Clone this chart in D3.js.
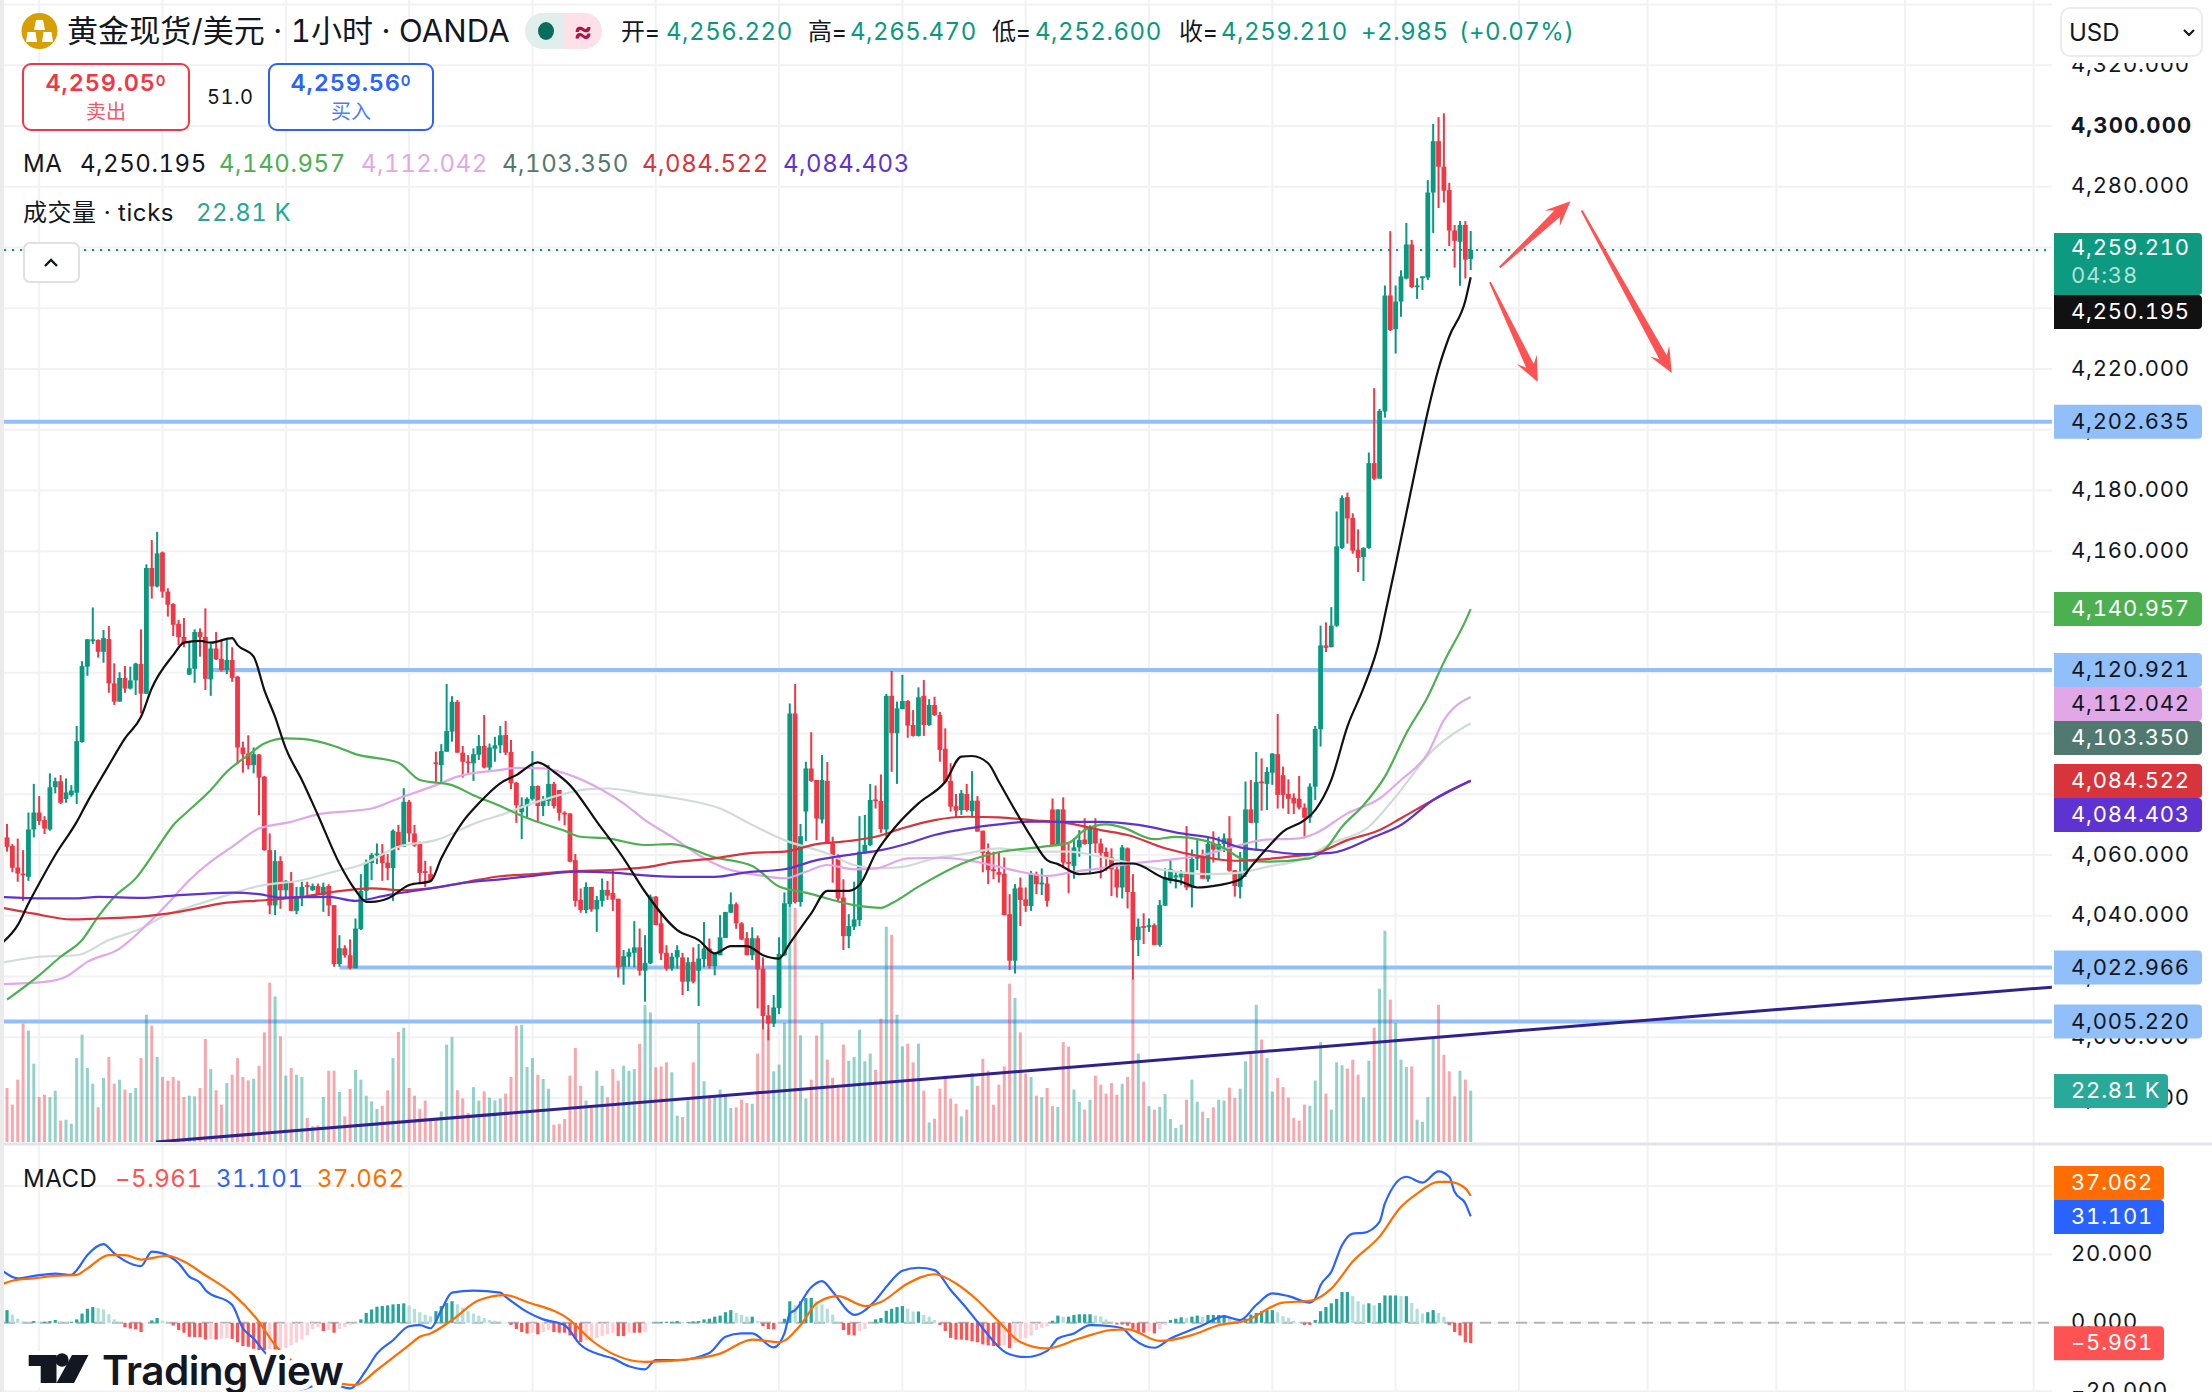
<!DOCTYPE html>
<html>
<head>
<meta charset="utf-8">
<style>
html, body { margin: 0; background: #fff; }
svg { display: block; }
text { font-family: Inter, "Noto Sans CJK SC", sans-serif; fill: #131722; font-variant-numeric: tabular-nums; }
.axlab text, .lab { font-size: 22px; letter-spacing: 0.8px; }
.hdr { font-size: 24px; letter-spacing: 0.55px; }
.axis path { display: none; }
</style>
</head>
<body>
<svg id="chart" width="2212" height="1392"></svg>
<script src="https://d3js.org/d3.v7.min.js"></script>
<script>
// candles
var opens = [
4065.8,4063.0,4055.9,4053.9,4052.8,4068.4,4074.0,4071.5,4068.4,4082.3,
4084.3,4078.4,4079.7,4080.5,4097.2,4122.0,4130.6,4130.8,4126.9,4131.1,
4116.5,4110.5,4118.3,4114.8,4117.5,4122.9,4113.1,4154.5,4148.4,4159.6,
4146.7,4142.6,4136.1,4131.8,4119.4,4121.3,4133.4,4131.8,4117.8,4128.0,
4124.6,4120.9,4124.2,4118.7,4095.4,4093.4,4089.6,4093.1,4085.8,4061.6,
4043.4,4058.0,4048.4,4051.3,4041.6,4046.2,4050.1,4048.4,4049.8,4046.8,
4049.8,4043.5,4024.1,4029.3,4027.0,4022.7,4035.6,4048.2,4057.4,4060.1,
4060.3,4057.5,4055.7,4067.6,4062.7,4077.5,4067.1,4063.6,4054.7,4053.7,
4090.5,4089.6,4094.0,4100.6,4110.4,4093.7,4090.8,4090.2,4093.0,4095.9,
4088.8,4095.0,4096.1,4099.5,4093.9,4083.8,4074.1,4076.1,4078.5,4082.7,
4076.1,4077.8,4083.4,4081.4,4073.9,4073.7,4058.3,4045.2,4041.9,4049.5,
4042.1,4044.9,4048.5,4047.5,4045.6,4023.2,4026.5,4027.8,4029.6,4021.9,
4024.3,4046.3,4037.5,4027.8,4022.6,4026.3,4026.3,4018.3,4024.8,4021.9,
4025.7,4029.2,4023.4,4027.0,4032.7,4041.0,4043.8,4037.5,4032.6,4027.0,
4032.6,4022.6,4007.2,4004.5,4009.6,4027.0,4043.8,4106.6,4044.5,4074.3,
4088.5,4084.7,4071.7,4084.4,4063.8,4059.4,4046.0,4033.3,4036.4,4038.6,
4060.5,4063.3,4078.3,4077.8,4068.4,4112.4,4100.1,4108.0,4110.7,4102.8,
4099.2,4112.4,4102.8,4109.4,4106.1,4095.0,4084.4,4076.1,4074.8,4080.1,
4074.4,4077.9,4068.0,4061.0,4055.3,4054.4,4053.9,4040.5,4025.2,4049.3,
4045.4,4043.2,4053.7,4050.4,4050.6,4075.0,4063.3,4075.0,4057.7,4056.4,
4062.5,4065.1,4063.6,4068.8,4063.8,4061.0,4059.2,4055.3,4049.3,4062.2,
4047.8,4032.0,4036.6,4036.2,4036.9,4030.4,4043.3,4051.5,4052.6,4052.6,
4053.9,4049.3,4058.9,4059.4,4052.0,4063.6,4061.8,4063.6,4065.5,4055.0,
4049.5,4053.7,4075.0,4070.6,4084.2,4083.4,4087.1,4093.2,4086.3,4080.1,
4078.8,4078.5,4075.6,4072.3,4082.5,4101.4,4129.0,4128.4,4135.5,4161.1,
4177.8,4171.0,4160.5,4158.1,4161.1,4189.0,4183.9,4206.0,4244.2,4233.1,
4242.2,4249.8,4261.0,4247.2,4250.1,4250.1,4278.1,4295.0,4286.6,4278.9,
4265.6,4261.9,4267.4,4256.22];
var closes = [
4062.7,4055.8,4053.9,4053.5,4068.4,4074.0,4071.2,4068.7,4082.3,4084.3,
4077.2,4080.6,4081.2,4097.5,4122.2,4131.0,4131.0,4126.9,4131.4,4116.5,
4110.5,4118.3,4114.8,4117.5,4123.0,4113.1,4154.5,4148.4,4159.3,4146.7,
4142.4,4135.8,4131.7,4129.7,4121.5,4133.4,4131.7,4118.0,4128.0,4124.4,
4120.9,4124.2,4118.3,4095.4,4093.2,4089.6,4093.2,4085.5,4061.6,4043.4,
4058.0,4048.4,4051.5,4041.6,4046.5,4049.5,4049.5,4049.8,4047.0,4049.5,
4043.4,4024.1,4029.3,4027.0,4022.7,4035.8,4048.2,4057.5,4060.0,4060.5,
4057.4,4055.7,4068.0,4062.9,4077.5,4067.1,4063.1,4054.1,4054.3,4051.7,
4090.2,4094.2,4100.8,4110.4,4093.7,4090.7,4090.2,4093.2,4095.9,4088.8,
4095.4,4096.1,4099.4,4093.7,4083.6,4076.4,4076.3,4078.5,4082.7,4076.1,
4078.1,4083.4,4076.1,4073.9,4073.6,4057.8,4044.9,4041.9,4049.5,4042.1,
4045.2,4048.5,4046.6,4045.3,4023.0,4026.7,4028.0,4029.6,4021.9,4024.5,
4046.3,4036.9,4027.6,4022.6,4026.5,4028.7,4018.3,4024.7,4018.3,4025.9,
4029.2,4023.4,4027.6,4032.9,4041.2,4043.8,4037.5,4032.2,4027.0,4032.6,
4022.3,4007.0,4004.5,4009.8,4027.4,4044.1,4106.6,4044.5,4066.2,4088.5,
4084.4,4072.0,4084.7,4063.8,4060.0,4045.7,4033.3,4036.6,4038.8,4061.1,
4063.3,4078.1,4077.9,4068.5,4112.4,4100.1,4108.3,4110.7,4102.6,4099.2,
4111.9,4102.8,4109.4,4106.1,4094.6,4084.1,4075.9,4074.6,4080.3,4074.8,
4077.9,4067.7,4060.7,4055.0,4054.8,4053.5,4040.2,4025.2,4049.0,4045.2,
4043.2,4053.7,4050.4,4050.9,4044.9,4063.3,4075.0,4057.5,4057.2,4062.5,
4064.9,4063.6,4068.8,4063.8,4060.7,4059.2,4055.3,4049.3,4062.5,4047.8,
4032.0,4036.4,4036.2,4036.9,4030.4,4043.5,4052.6,4055.3,4053.3,4053.9,
4049.3,4058.7,4059.4,4052.2,4063.6,4061.8,4063.6,4065.5,4054.8,4049.8,
4054.5,4075.0,4070.6,4084.0,4083.8,4087.3,4093.4,4079.8,4079.8,4078.5,
4077.0,4075.6,4072.3,4082.5,4101.5,4129.0,4128.2,4135.5,4161.6,4177.5,
4170.8,4160.2,4157.8,4161.1,4189.0,4183.9,4206.2,4244.2,4232.8,4242.2,
4250.5,4261.0,4247.0,4247.5,4250.5,4278.1,4295.0,4286.6,4278.7,4265.6,
4262.2,4267.4,4256.0,4259.21];
var highs = [
4070.2,4063.6,4065.4,4061.6,4074.0,4083.4,4079.4,4072.8,4086.9,4085.5,
4086.3,4085.2,4083.0,4102.5,4123.8,4131.1,4141.5,4131.0,4134.1,4135.4,
4123.1,4120.2,4122.2,4122.0,4123.3,4134.3,4155.7,4163.7,4166.4,4159.9,
4147.8,4142.9,4137.4,4138.0,4130.2,4134.3,4134.6,4141.2,4129.5,4133.4,
4130.5,4131.0,4128.4,4119.0,4097.3,4099.4,4095.4,4093.2,4086.0,4067.1,
4061.6,4059.6,4051.7,4054.4,4049.5,4051.2,4051.2,4050.6,4050.6,4050.9,
4050.4,4043.5,4033.6,4030.3,4032.2,4039.1,4053.7,4058.5,4060.7,4063.8,
4063.6,4060.3,4068.4,4069.9,4082.0,4078.1,4069.9,4064.4,4058.1,4056.3,
4094.0,4096.5,4116.3,4112.3,4111.0,4095.9,4092.9,4095.1,4099.5,4106.1,
4096.7,4098.9,4102.5,4104.1,4097.9,4084.1,4079.0,4079.0,4094.2,4082.9,
4079.4,4089.6,4084.1,4081.4,4074.4,4073.7,4060.3,4049.0,4051.0,4049.5,
4046.5,4052.3,4051.5,4055.0,4045.6,4028.7,4029.2,4038.2,4035.8,4033.6,
4047.0,4046.5,4041.3,4030.3,4027.8,4030.3,4027.8,4026.3,4029.6,4030.7,
4037.9,4032.5,4027.6,4040.2,4041.3,4047.7,4044.4,4037.9,4034.6,4036.2,
4033.5,4026.3,4010.6,4013.9,4032.9,4047.7,4109.9,4116.3,4070.2,4090.7,
4100.4,4084.7,4092.9,4090.6,4066.0,4060.2,4052.0,4040.5,4051.2,4072.8,
4073.2,4083.4,4082.9,4086.5,4113.0,4120.6,4110.5,4119.3,4111.0,4107.7,
4115.2,4117.6,4111.3,4112.1,4107.1,4101.7,4090.2,4080.1,4081.4,4083.4,
4087.6,4079.4,4068.0,4063.8,4061.1,4061.0,4059.2,4047.1,4050.4,4052.6,
4049.3,4054.7,4054.5,4055.6,4053.4,4078.6,4075.0,4079.0,4063.6,4065.5,
4068.2,4072.1,4069.8,4072.1,4065.4,4062.5,4062.2,4057.2,4063.3,4062.5,
4053.7,4039.1,4040.8,4039.1,4037.5,4045.2,4055.6,4058.3,4054.5,4055.0,
4069.5,4061.8,4065.2,4061.8,4066.2,4067.8,4066.0,4067.1,4072.8,4055.0,
4061.0,4084.2,4084.7,4093.9,4091.8,4088.9,4093.5,4106.4,4089.1,4084.9,
4080.3,4086.0,4077.0,4083.6,4102.5,4135.5,4136.6,4141.6,4173.1,4178.4,
4179.3,4172.5,4167.2,4161.3,4192.5,4213.7,4206.8,4247.5,4265.4,4247.5,
4252.5,4268.1,4262.5,4249.9,4250.5,4282.2,4300.7,4302.9,4304.2,4281.3,
4267.4,4268.7,4268.7,4265.47];
var lows = [
4061.1,4054.3,4051.2,4044.9,4051.5,4065.8,4069.9,4066.9,4068.0,4080.3,
4076.8,4077.2,4079.2,4076.8,4097.0,4119.0,4129.5,4125.0,4123.3,4113.4,
4109.4,4110.5,4113.4,4114.5,4112.7,4106.6,4113.0,4144.4,4148.1,4144.7,
4138.5,4132.1,4129.1,4128.4,4119.3,4116.7,4125.3,4114.3,4112.4,4124.2,
4120.4,4119.6,4117.0,4089.9,4087.1,4088.2,4086.9,4073.1,4061.4,4040.5,
4040.2,4042.3,4046.0,4041.6,4040.5,4043.2,4046.2,4048.2,4046.8,4041.3,
4039.9,4023.2,4023.2,4026.2,4022.3,4022.7,4035.3,4045.1,4051.7,4057.0,
4051.5,4051.7,4044.9,4061.6,4062.7,4064.3,4062.7,4050.6,4049.5,4051.2,
4083.8,4083.8,4094.0,4097.3,4093.7,4085.5,4086.9,4084.4,4091.3,4088.5,
4087.4,4090.7,4093.5,4092.9,4081.7,4070.6,4065.2,4072.4,4077.9,4071.0,
4072.8,4076.1,4075.3,4071.3,4069.8,4057.6,4043.0,4041.0,4040.8,4041.3,
4034.7,4043.0,4045.2,4041.6,4019.7,4017.3,4023.2,4023.0,4020.3,4011.7,
4024.1,4036.9,4025.4,4021.9,4021.9,4022.6,4013.9,4015.2,4017.7,4010.3,
4023.0,4022.6,4020.4,4027.0,4032.7,4041.0,4035.7,4032.0,4027.0,4025.4,
4009.5,4002.6,3999.0,4003.4,4007.6,4026.7,4043.0,4044.0,4043.0,4064.6,
4084.1,4064.9,4070.4,4063.6,4050.9,4044.6,4028.7,4029.3,4035.3,4036.6,
4060.5,4062.9,4075.3,4067.3,4066.0,4087.4,4083.4,4108.0,4098.6,4099.0,
4099.0,4099.2,4102.5,4105.8,4090.7,4083.6,4074.3,4072.4,4073.2,4074.3,
4072.8,4067.7,4054.3,4050.4,4052.0,4050.9,4040.2,4022.1,4021.0,4036.6,
4041.3,4041.6,4047.1,4046.8,4043.0,4063.3,4063.3,4055.9,4047.4,4052.2,
4059.4,4063.4,4054.2,4060.7,4052.3,4054.8,4046.5,4046.0,4045.7,4042.4,
4019.0,4026.7,4030.7,4034.7,4030.3,4029.8,4043.3,4050.6,4049.0,4050.1,
4048.4,4042.7,4055.0,4052.2,4051.2,4057.5,4058.3,4061.0,4054.5,4046.3,
4045.7,4052.8,4070.6,4061.4,4074.6,4074.8,4083.1,4075.3,4075.3,4073.5,
4073.5,4075.0,4065.5,4070.6,4078.1,4095.7,4126.8,4128.4,4135.1,4160.8,
4162.5,4159.2,4153.1,4150.2,4160.8,4183.4,4183.9,4204.0,4232.5,4225.1,
4237.2,4249.5,4246.6,4243.1,4246.0,4249.3,4264.8,4273.0,4274.8,4260.5,
4253.4,4247.4,4249.8,4252.6];

// tick volume in thousands
var volumes = [
24,16.6,27.7,52.6,49.5,34.8,20,21,19.9,22.8,9.5,9.9,8.1,37.3,47.7,32.9,25.9,15.4,28.4,37.8,
25.9,27.7,23.3,21.8,24,37.3,56.6,51.7,37.8,28.9,27.3,28.9,27.3,20,20.6,20.3,24,45.8,32.4,23,
16.6,26.2,29.9,37.3,28.9,27.4,28.1,33.9,48.7,70.8,64.7,47,29.5,32.9,29.9,28.9,10.7,7,7.3,20,
31.7,31.7,22.2,11.4,23.6,32.1,27.7,20.6,18.1,14.7,16.1,23,37.3,48.9,50.8,24,20.6,14.8,18.4,9.6,
9.6,13.6,43.3,46.7,23,19.4,12.9,24.4,18.4,22.5,19.7,18.5,19.3,21.5,28.9,51.7,52.1,33.3,37.3,29.9,
28,23.7,7.7,8.1,10.2,29.5,41.8,25,18.4,15.1,31.7,25,19.9,32.4,27.3,33.9,31.7,32.4,43.7,61,
57.6,33.2,33.6,35.4,31,11.7,11.1,18.5,35.4,52.9,27,20,20.3,23.3,21.3,15.1,15.4,18.8,17.3,17,
39.3,50.4,49.9,31.4,34.4,52.9,105,104,47.4,19.3,27.7,47.3,52.9,36.6,28.6,24,43.3,36.1,37.8,49.9,
35.9,39.3,32.1,54.8,95.7,92.1,56.6,42.5,43.7,35.4,43.7,22.8,8.7,10.4,23.7,29.5,19.3,17,11.4,14.4,
30.7,25,37,31.7,16.6,25.5,33.6,70.4,64.1,48.7,30.4,28.9,20.6,19.9,24,15.9,15.6,44.4,42.4,23.3,
17.8,14.4,18.8,29.5,25.5,21.5,26.2,21,25.9,28.9,72.6,39.3,26.8,15.9,14.4,15.6,21.3,10.2,6.2,7.7,
18.8,27.7,17.9,13.5,10.7,15.4,18.8,18.4,24.1,19.6,23.7,35.9,39.6,61,45.5,37.3,22.4,28.4,24.4,19.7,
10.7,9.5,16.6,16.1,27.3,44.4,21.5,14.4,35.4,34.1,32.6,36.6,29.9,19.9,36.1,50.8,68.1,93.9,63.3,52.9,
36.6,33.3,33.6,9.9,9,19.9,45.8,61,38.8,31.4,20.3,31.7,27.7,22.81];

// moving averages: bar number and value at the points read
var ma1Bars = [-1,2,4,6,9,13,15,17,19,22,25,27,31,33,36,38,42,43,46,48,50,52,55,58,62,65,67,68,71,75,79,81,85,88,92,95,99,102,105,110,115,119,125,129,132,135,138,141,144,146,150,153,157,159,162,166,170,175,178,180,183,185,188,191,194,196,200,204,207,210,216,219,222,226,230,232,235,238,242,244,247,250,253,256,257,259,263,265,267,269,272,273];
var ma1Vals = [4030.9,4036.9,4044,4050.6,4060,4070.9,4077.5,4083.6,4089.6,4098.4,4105.5,4114.9,4125.8,4129.9,4130.5,4129.9,4131.4,4129.1,4125.3,4114.3,4105.5,4095.1,4084.7,4073.1,4057.2,4048.4,4044.6,4044.6,4045.7,4050.1,4051.4,4058.9,4070.9,4077,4083.6,4086.3,4090.5,4087.4,4083,4071,4058.9,4047.9,4035.3,4032,4027.6,4030,4030,4027,4025.9,4030.9,4040.8,4048.2,4048.2,4050.1,4060.5,4069.9,4077,4084.1,4092.4,4092.6,4090.2,4084.1,4074.8,4066,4058.3,4057,4053.7,4054.5,4057.2,4057.2,4052.3,4051.2,4049.3,4050.1,4052,4056.1,4062.2,4067.7,4071.5,4074.8,4084.7,4102.3,4114.9,4130.8,4139,4155.5,4189.6,4206,4220.1,4230.7,4242.5,4250.195];
var ma2Bars = [0,6,10,14,17,20,24,28,31,34,38,41,45,48,52,55,61,65,73,77,83,87,92,95,98,104,107,112,119,124,132,139,144,149,158,163,165,170,179,185,193,198,201,205,208,214,218,223,227,231,235,243,246,249,253,257,261,265,268,272,273];
var ma2Vals = [4012.4,4020.4,4026.5,4032,4039.7,4046.2,4052.3,4062.2,4069.8,4074.8,4081.4,4087.4,4092.9,4096.7,4098.4,4098.2,4095.9,4093.2,4090.4,4084.7,4083,4079.7,4076.1,4073.7,4071.5,4068,4066,4065.5,4063.3,4063.6,4059.2,4056.4,4049.6,4047.6,4043.5,4042.6,4044.1,4049.6,4057.8,4060.9,4062.7,4064,4068.2,4070.1,4069.1,4065.2,4066,4064.9,4062.2,4058.3,4057.8,4058.9,4062.2,4069.3,4076.4,4085.8,4100.1,4112.1,4123.5,4137,4140.957];
var ma3Bars = [-1,7,11,15,21,26,30,34,38,42,47,53,58,65,68,73,80,84,92,95,100,105,111,115,119,124,129,134,140,145,149,153,158,162,168,174,179,185,189,194,199,204,210,216,223,230,234,241,244,250,256,260,265,268,273];
var ma3Vals = [4017.5,4018.2,4019.9,4024.8,4029.2,4036.9,4044,4051.7,4057.8,4062.7,4068.7,4070.9,4073.4,4074.6,4075.3,4078.6,4083,4085.8,4088,4088.7,4088.5,4086.3,4081.4,4077,4071.5,4066,4060,4055.6,4053.4,4052.3,4054.5,4056.7,4055.3,4055.6,4058.9,4059.1,4058.3,4056.1,4054.5,4053.1,4054.5,4055.6,4057.2,4058.3,4060,4063.3,4064.9,4065.5,4067.1,4073.7,4078.6,4084.7,4093.5,4104.4,4112.042];
var ma4Bars = [-1,6,13,19,25,29,36,42,47,55,61,66,73,80,88,92,98,103,108,112,119,125,133,139,145,153,158,162,167,173,179,185,191,198,204,210,216,224,230,235,241,247,254,259,266,273];
var ma4Vals = [4024.5,4026.5,4027,4032,4035.8,4039.7,4044,4047.3,4049.8,4051.7,4054.5,4056.7,4062.7,4064.9,4070.9,4073.1,4077,4079.7,4081.6,4081.9,4080.1,4078.6,4075.3,4069.9,4064.9,4060.5,4056.7,4055.6,4056.1,4058.9,4060.5,4062.2,4061.1,4061.1,4059.4,4057.2,4055,4053.7,4054.2,4056.1,4058.3,4063.8,4069.3,4079.2,4094.6,4103.35];
var ma5Bars = [-1,5,12,17,25,32,41,48,55,61,68,74,79,86,92,98,104,115,119,124,132,139,145,151,157,162,167,173,179,185,191,198,204,209,216,223,229,232,240,244,250,256,260,266,273];
var ma5Vals = [4042.7,4040.7,4038.8,4039.1,4039.7,4041.3,4044.3,4045.1,4046.2,4047.9,4049,4048.4,4049,4051.2,4053,4053.7,4054.5,4055.3,4055.9,4057.5,4058.9,4060.7,4061.1,4063.6,4064.6,4066,4068.8,4071.5,4072.6,4072.4,4071.5,4070.4,4068.2,4066.6,4062.2,4059.4,4058.1,4058.3,4059.6,4060.5,4064.9,4068.2,4072.1,4078.1,4084.522];
var ma6Bars = [-1,7,13,17,25,31,42,47,51,60,65,71,79,86,92,98,106,113,119,127,132,138,145,151,158,163,168,173,179,185,191,198,204,211,219,225,230,235,241,247,255,260,266,273];
var ma6Vals = [4046.2,4045.7,4045.7,4046.2,4045.9,4046.6,4047.6,4047.1,4046,4046.2,4044.9,4046.8,4049,4051,4052,4053.1,4054.5,4054.2,4053.3,4052.8,4052.8,4054.3,4055.3,4058.3,4060.3,4061.6,4063.8,4066.6,4068.7,4070.1,4071,4070.9,4070.9,4069.9,4067.1,4065.5,4062.5,4061.4,4060.3,4060.7,4066,4069.9,4078.1,4084.403];

// MACD pane
var macdBars = [-1,2,5,9,12,13,15,18,20,22,25,27,29,32,34,36,37,42,44,46,48,51,53,55,57,60,62,64,67,69,72,75,77,79,81,83,87,92,93,97,100,104,107,111,113,116,119,121,125,131,134,137,139,143,145,146,147,150,152,154,157,158,162,164,167,170,173,176,179,181,187,190,194,196,199,202,206,208,210,214,217,220,223,227,230,233,236,239,243,244,245,247,249,251,253,256,257,261,264,267,269,270,272,273];
var macdVals = [15.4,13,13.7,14.4,14,15.4,19.8,23,20.3,18.1,16.6,20.8,20.3,17.4,13.5,11.7,9.6,5.2,-1.6,-4.6,-8.5,-13.8,-18.2,-19.4,-18.5,-17.7,-18.5,-19.2,-13.8,-9,-5.1,-1,-0.7,-1.6,3.7,8.8,9.4,8.8,7.6,3.2,1,-0.7,-6.5,-9.5,-10.4,-12.7,-13.6,-10.9,-10.9,-8.8,-4.1,-3.1,-3.1,-7.2,-3.1,2.7,3.7,10.4,12.2,9.1,3.2,2.3,6.6,10.5,15.2,16.1,15.4,9.6,4.2,0.3,-9.2,-10,-8.2,-4.6,-3.1,-0.7,-1,-1.6,-4.6,-7.3,-4.6,-2.6,-0.7,1.9,0.8,5.2,8.6,7.8,5.9,7.1,11,14.9,22.7,26.1,26.3,29.5,34.9,42.7,41,44.3,42.7,38.3,34.9,31.101];
var signalBars = [-1,1,5,9,13,15,19,22,25,30,33,37,42,47,50,53,57,62,65,69,75,77,79,83,88,93,97,105,109,119,127,133,139,144,148,151,155,160,163,168,173,177,181,185,189,194,200,206,209,215,221,226,231,238,243,247,251,256,260,263,267,269,272,273];
var signalVals = [11.2,12.3,13,13.7,14,15.9,19.8,19.8,18.5,19.6,17.9,13.9,8.6,0.3,-6.5,-10.9,-14.8,-17.7,-18.2,-13.8,-6.5,-4.1,-3.1,0.8,6.6,8.1,6.1,0.8,-5.1,-11.4,-10.7,-9,-4.9,-5.7,-0.7,5.7,7.8,4.9,6.1,11.5,14.2,11.5,6.6,0.3,-5.6,-7.5,-4.6,-2.1,-1.9,-5.3,-3.6,-0.7,0.6,5.9,6.4,10,17.9,25.2,33.9,37.8,41.2,41.2,39.3,37.062];
var macdHist = [
3.7,2.4,1.2,.4,.2,.5,.3,.3,.5,.8,.4,.2,.3,1,2.7,4.1,4.6,4.3,3.9,2.5,
1,.2,-1.3,-1.7,-1.9,-2.7,0,.7,1.4,.6,.2,-.8,-2.1,-2.9,-4.1,-4.2,-4.2,-4.9,-4.7,-4.9,
-4.6,-4.4,-4.7,-5.7,-6.8,-7,-7.6,-8,-8,-7.8,-7.8,-7.6,-7.3,-6.6,-5.8,-4.9,-3.7,-1.9,-1.2,-2.4,
-2.1,-2.9,-1.8,-1.2,-.6,-.3,1,2.9,3.9,4.7,4.9,5.1,5.4,5.5,5.7,5.1,4.1,3.1,2.4,1.9,
3.4,4.9,5.8,6.3,5.4,4.4,3.4,2.7,2.1,1.4,.8,.6,.3,.1,-.6,-1.8,-2.7,-3.1,-2.9,-3.4,
-2.7,-2.1,-2.7,-2.9,-2.9,-3.7,-4.7,-5.7,-5.1,-4.9,-4.4,-3.9,-3.4,-2.9,-3.9,-3.9,-2.9,-2.9,-2.9,-2.7,
0,.1,.2,.3,.3,.5,.2,.2,.4,.5,1,1.2,1.8,2.1,3.1,3.7,2.9,2.3,1.8,1.8,
.6,-1,-1.8,-1.9,-.2,1.2,6.3,5.1,6.3,7.2,7.3,6.3,5.4,4.1,2.4,.3,-2.1,-3.5,-3.7,-2.5,
-1.8,-.2,1,1.4,3.5,4.1,4.6,4.9,4.1,3.3,3.3,2.3,1.8,.8,-.6,-2.4,-4.4,-4.9,-4.9,-5.1,
-5.4,-5.7,-6.3,-6.6,-6.8,-6.8,-6.6,-7.4,-6,-4.7,-4.4,-3.7,-2.1,-1.5,-1,.6,2.1,1.8,1.8,2.3,
2.5,2.5,2.5,2.1,1.9,1,.3,-.5,-.5,-.8,-1.8,-2.7,-2.9,-2.4,-3.1,-1.8,-.6,.8,1.2,1.6,
1.4,1.8,2.1,1.7,2.3,2.3,2.3,2.3,1.4,.6,.6,1.2,2.4,2.9,3.4,3.7,3.7,3.1,1.9,1.4,
.6,.2,-.6,-.6,.8,3.4,4.6,5.7,7,9,9,7.8,6.3,5.4,5.7,5.1,5.8,8,8,8,
7.8,7.8,5.8,4.1,2.7,3.1,3.7,2.9,1.8,-.6,-2.7,-3.7,-5.7,-5.961];

// axes
var priceTicks = [4340,4320,4300,4280,4260,4240,4220,4200,4180,4160,4140,4120,4100,4080,4060,4040,4020,4000,3980];
var macdTicks = [40,20,0,-20];
var timeBars = [6,29,52,75,98,121,144,167,190,213,236,259,282,306,330,354,378];

// drawings
var levelPrices = [4202.635,4120.921,4022.966,4005.22];
var levelStarts = [-1,38,62,-1];
var trendBars = [27.8,381.4];
var trendPrices = [3965.5,4016.5];
var arrowBars = [[278.4,291.6],[276.6,285.5],[293.7,310.5]];
var arrowPrices = [[4253.4,4275.2],[4248.6,4215.7],[4272.2,4218.7]];

var green = "#089981", red = "#f23645";
var maColors = ["#111111","#4caf50","#e1a8e8","#d0dcd6","#d8343c","#5e33d1"];

var svg = d3.select("#chart"),
    fmt = d3.format(",.3f");

var x = d3.scaleLinear().domain([0,273]).range([7,1470.7]),
    y = d3.scaleLinear().domain([3980,4300]).range([1098,126]),
    yVol = d3.scaleLinear().domain([0,100]).range([1142,917]),
    yMacd = d3.scaleLinear().domain([-20,40]).range([1391.2,1186]);

var defs = svg.append("defs");
defs.append("clipPath").attr("id","main").append("rect").attr("x",4).attr("y",0).attr("width",2048).attr("height",1142);
defs.append("clipPath").attr("id","lower").append("rect").attr("x",4).attr("y",1146).attr("width",2048).attr("height",246);

// left edge strip
svg.append("rect").attr("x",0).attr("y",0).attr("width",4).attr("height",1392).attr("fill","#ebebeb");

// grid
var grid = svg.append("g").attr("stroke","#f2f2f4").attr("stroke-width",2);
grid.selectAll(".v").data(timeBars).enter().append("line")
    .attr("x1",function(d){return x(d);}).attr("x2",function(d){return x(d);})
    .attr("y1",0).attr("y2",1392);
grid.selectAll(".h").data(priceTicks).enter().append("line")
    .attr("x1",4).attr("x2",2052)
    .attr("y1",function(d){return y(d);}).attr("y2",function(d){return y(d);});
grid.selectAll(".m").data(macdTicks).enter().append("line")
    .attr("x1",4).attr("x2",2052)
    .attr("y1",function(d){return yMacd(d);}).attr("y2",function(d){return yMacd(d);});

var main = svg.append("g").attr("clip-path","url(#main)"),
    lower = svg.append("g").attr("clip-path","url(#lower)");

// horizontal levels
main.selectAll(".level").data(levelPrices).enter().append("line")
    .attr("x1",function(d,i){return x(levelStarts[i]);}).attr("x2",2052)
    .attr("y1",function(d){return y(d);}).attr("y2",function(d){return y(d);})
    .attr("stroke","#90bff9").attr("stroke-width",4);

// volume
main.selectAll(".vol").data(volumes).enter().append("rect")
    .attr("x",function(d,i){return x(i)-1.5;}).attr("width",3)
    .attr("y",function(d){return yVol(d);})
    .attr("height",function(d){return yVol(0)-yVol(d);})
    .attr("fill",function(d,i){return closes[i]>=opens[i] ? green : red;})
    .attr("fill-opacity",0.44);

// trend line
main.append("line")
    .attr("x1",x(trendBars[0])).attr("x2",x(trendBars[1]))
    .attr("y1",y(trendPrices[0])).attr("y2",y(trendPrices[1]))
    .attr("stroke","#2f2190").attr("stroke-width",3);

// last price line
main.append("line")
    .attr("x1",4).attr("x2",2046)
    .attr("y1",y(closes[273])).attr("y2",y(closes[273]))
    .attr("stroke",green).attr("stroke-width",2).attr("stroke-dasharray","2.2 5.8");

// candles
var candle = main.selectAll(".candle").data(opens).enter().append("g")
    .attr("fill",function(d,i){return closes[i]>=d ? green : red;});
candle.append("rect")
    .attr("x",function(d,i){return x(i)-1;}).attr("width",2)
    .attr("y",function(d,i){return y(highs[i]);})
    .attr("height",function(d,i){return y(lows[i])-y(highs[i]);});
candle.append("rect")
    .attr("x",function(d,i){return x(i)-2.4;}).attr("width",4.8)
    .attr("y",function(d,i){return y(Math.max(d,closes[i]));})
    .attr("height",function(d,i){return Math.max(1.8,Math.abs(y(d)-y(closes[i])));});

// moving averages, slowest first so the black one stays on top
var maLine = d3.line().curve(d3.curveMonotoneX)
    .x(function(d){return x(d[0]);}).y(function(d){return y(d[1]);});
var maSeries = [[ma4Bars,ma4Vals,3],[ma3Bars,ma3Vals,2],[ma2Bars,ma2Vals,1],[ma5Bars,ma5Vals,4],[ma6Bars,ma6Vals,5],[ma1Bars,ma1Vals,0]];
maSeries.forEach(function(s){
  main.append("path")
      .attr("d",maLine(d3.zip(s[0],s[1])))
      .attr("fill","none").attr("stroke",maColors[s[2]]).attr("stroke-width",2.2);
});

// hand drawn arrows
arrowBars.forEach(function(b,i){
  var x0 = x(b[0]), y0 = y(arrowPrices[i][0]), x1 = x(b[1]), y1 = y(arrowPrices[i][1]),
      dx = x1-x0, dy = y1-y0, len = Math.sqrt(dx*dx+dy*dy), ux = dx/len, uy = dy/len, nx = -uy, ny = ux;
  function p(along, side) { return [x0+ux*along+nx*side, y0+uy*along+ny*side]; }
  var pts = [p(0,1),p(len-18,4.2),p(len-25,11),p(len,0),p(len-25,-11),p(len-18,-4.2),p(0,-1)];
  svg.append("path").attr("d",d3.line()(pts)+"Z").attr("fill","#ff5252");
});

// separator between panes
svg.append("rect").attr("x",4).attr("y",1142.5).attr("width",2208).attr("height",3).attr("fill","#e3e4ea");

// MACD
lower.append("line").attr("x1",4).attr("x2",2052)
    .attr("y1",yMacd(0)).attr("y2",yMacd(0))
    .attr("stroke","#b2b5be").attr("stroke-width",2).attr("stroke-dasharray","11 7");
lower.selectAll(".hist").data(macdHist).enter().append("rect")
    .attr("x",function(d,i){return x(i)-1.6;}).attr("width",3.2)
    .attr("y",function(d){return Math.min(yMacd(d),yMacd(0));})
    .attr("height",function(d){return Math.abs(yMacd(d)-yMacd(0));})
    .attr("fill",function(d,i){
      var prev = i ? macdHist[i-1] : 0;
      if (d >= 0) return d >= prev ? "#26a69a" : "#b2dfdb";
      return d <= prev ? "#ff5252" : "#ffcdd2";
    });
var macdLine = d3.line().curve(d3.curveMonotoneX)
    .x(function(d){return x(d[0]);}).y(function(d){return yMacd(d[1]);});
lower.append("path").attr("d",macdLine(d3.zip(macdBars,macdVals)))
    .attr("fill","none").attr("stroke","#2962ff").attr("stroke-width",2.2);
lower.append("path").attr("d",macdLine(d3.zip(signalBars,signalVals)))
    .attr("fill","none").attr("stroke","#ff6d00").attr("stroke-width",2.2);

// price and MACD axes
var axisPrice = svg.append("g").attr("class","axis axlab")
    .attr("transform","translate(2071,-1)")
    .call(d3.axisRight(y).tickValues(priceTicks).tickFormat(fmt).tickSize(0).tickPadding(0));
axisPrice.selectAll("text").filter(function(d){return d===4300;})
    .style("font-weight",700).style("letter-spacing","1.1px");
var axisMacd = svg.append("g").attr("class","axis axlab")
    .attr("transform","translate(2071,-1)")
    .call(d3.axisRight(yMacd).tickValues(macdTicks).tickFormat(fmt).tickSize(0).tickPadding(0));

// top of the scale is hidden under the currency box
svg.append("rect").attr("x",2053).attr("y",0).attr("width",159).attr("height",63).attr("fill","#fff");
svg.append("rect").attr("x",2061).attr("y",8).attr("width",141).attr("height",48).attr("rx",9)
    .attr("fill","#fff").attr("stroke","#ebebeb").attr("stroke-width",2);
svg.append("text").attr("x",2069).attr("y",32).attr("dy","0.36em").style("font-size","24px").text("USD");
svg.append("path").attr("d","M2184 30l5 5 5-5").attr("fill","none").attr("stroke","#131722").attr("stroke-width",2.2);

// value tags on the axis; yc is only set where the tag is pushed off its value by its neighbour
var tags = [
  {t:"4,202.635",c:4202.635,bg:"#90bff9",fg:"#131722"},
  {t:"4,140.957",c:4140.957,bg:"#4caf50",fg:"#fff"},
  {t:"4,120.921",c:4120.921,bg:"#90bff9",fg:"#131722"},
  {t:"4,112.042",c:4112.042,yc:704,bg:"#e1a8e8",fg:"#131722"},
  {t:"4,103.350",c:4103.35,yc:738,bg:"#52796f",fg:"#fff"},
  {t:"4,084.522",c:4084.522,yc:781,bg:"#d8343c",fg:"#fff"},
  {t:"4,084.403",c:4084.403,yc:815,bg:"#5e33d1",fg:"#fff"},
  {t:"4,022.966",c:4022.966,bg:"#90bff9",fg:"#131722"},
  {t:"4,005.220",c:4005.22,bg:"#90bff9",fg:"#131722"}
];
function tag(yc,h,w,bg) {
  svg.append("path")
     .attr("d","M2054 "+(yc-h/2)+"H"+(2054+w-4)+"q4 0 4 4V"+(yc+h/2-4)+"q0 4-4 4H2054Z")
     .attr("fill",bg);
}
function tagText(yc,t,fg,op) {
  svg.append("text").attr("class","lab").attr("x",2071).attr("y",yc-0.8).attr("dy","0.36em")
     .style("fill",fg).style("fill-opacity",op||1).text(t);
}
tags.forEach(function(d){
  var yc = d.yc || y(d.c);
  tag(yc,34,148,d.bg); tagText(yc,d.t,d.fg);
});
tag(264,62,148,"#0c9a80"); tagText(248,"4,259.210","#fff"); tagText(276,"04:38","#fff",0.7);
tag(312,34,148,"#111111"); tagText(312,"4,250.195","#fff");
tag(1091,34,114,"#2aa899"); tagText(1091,"22.81 K","#fff");
tag(1183,34,110,"#ff6d00"); tagText(1183,"37.062","#fff");
tag(1217,34,110,"#2962ff"); tagText(1217,"31.101","#fff");
tag(yMacd(macdHist[273]),34,110,"#ff5252"); tagText(yMacd(macdHist[273]),"\u22125.961","#fff");

// header row
svg.append("circle").attr("cx",39.5).attr("cy",31).attr("r",18).attr("fill","#d89f00");
svg.append("path").attr("d","M36 20h7l2 10h-11zM27.5 32h8l1.5 10h-11zM43.5 32h8l1.5 10h-11z").attr("fill","#fff");
svg.append("text").attr("x",67).attr("y",31).attr("dy","0.36em").style("font-size","31px").style("letter-spacing","0.1px")
    .text("黄金现货/美元 · 1小时 · OANDA");
svg.append("path").attr("d","M563 13H543a18 18 0 0 0 0 36h20Z").attr("fill","#e0efec");
svg.append("path").attr("d","M563 13H584a18 18 0 0 1 0 36h-21Z").attr("fill","#fde0e8");
svg.append("ellipse").attr("cx",546).attr("cy",31).attr("rx",8).attr("ry",9).attr("fill","#0b6b5c");
svg.append("text").attr("x",583).attr("y",31).attr("dy","0.34em").attr("text-anchor","middle")
    .style("font-size","28px").style("font-weight",700).style("fill","#b0124b").text("≈");

var ohlcLabels = ["开=","4,256.220","高=","4,265.470","低=","4,252.600","收=","4,259.210","+2.985","(+0.07%)"],
    ohlcX = [621,666,808,850,992,1035,1179,1221,1361,1459];
ohlcLabels.forEach(function(t,i){
  svg.append("text").attr("class","hdr").attr("x",ohlcX[i]).attr("y",31).attr("dy","0.36em")
     .style("letter-spacing",(i%2===0 && i<8) ? "-0.5px" : null)
     .style("fill",(i%2===0 && i<8) ? "#131722" : green).text(t);
});

// bid and ask
[["4,259.05","卖出",23,166,red],["4,259.56","买入",269,164,"#2962ff"]].forEach(function(b){
  svg.append("rect").attr("x",b[2]).attr("y",64).attr("width",b[3]).attr("height",66).attr("rx",8)
     .attr("fill","#fff").attr("stroke",b[4]).attr("stroke-width",2);
  var t = svg.append("text").attr("x",b[2]+b[3]/2).attr("y",83).attr("dy","0.36em").attr("text-anchor","middle")
     .style("font-size","23.5px").style("font-weight",600).style("letter-spacing","0.8px").style("fill",b[4]);
  t.append("tspan").text(b[0]);
  t.append("tspan").attr("dy",-5).style("font-size","15px").text("0");
  svg.append("text").attr("x",b[2]+b[3]/2).attr("y",112).attr("dy","0.36em").attr("text-anchor","middle")
     .style("font-size","20px").style("fill",b[4]).style("fill-opacity",0.85).text(b[1]);
});
svg.append("text").attr("x",207).attr("y",97).attr("dy","0.36em").style("font-size","20px").style("letter-spacing","0.6px").text("51.0");

// legends
var maLabels = ["4,250.195","4,140.957","4,112.042","4,103.350","4,084.522","4,084.403"],
    maLabelX = [80,219,361,502,642,783],
    maLabelColors = ["#131722","#4caf50","#e1a8e8","#52796f","#d8343c","#5e33d1"];
svg.append("text").attr("class","hdr").attr("x",23).attr("y",163).attr("dy","0.36em").text("MA");
maLabels.forEach(function(t,i){
  svg.append("text").attr("class","hdr").attr("x",maLabelX[i]).attr("y",163).attr("dy","0.36em")
     .style("fill",maLabelColors[i]).text(t);
});
svg.append("text").attr("class","hdr").attr("x",23).attr("y",212).attr("dy","0.36em").text("成交量 · ticks");
svg.append("text").attr("class","hdr").attr("x",196).attr("y",212).attr("dy","0.36em").style("fill","#26a69a").text("22.81 K");
svg.append("rect").attr("x",24).attr("y",243).attr("width",55).attr("height",39).attr("rx",6)
    .attr("fill","#fff").attr("stroke","#e0e0e0").attr("stroke-width",2);
svg.append("path").attr("d","M45 266l6-6 6 6").attr("fill","none").attr("stroke","#131722").attr("stroke-width",2.4);

var macdLabels = [["MACD",23,"#131722"],["\u22125.961",115,"#ff5252"],["31.101",216,"#2962ff"],["37.062",317,"#ff6d00"]];
macdLabels.forEach(function(d){
  svg.append("text").attr("class","hdr").attr("x",d[1]).attr("y",1178).attr("dy","0.36em").style("fill",d[2]).text(d[0]);
});

// watermark
var logo = svg.append("g");
logo.append("text").attr("x",102).attr("y",1385)
    .style("font-size","40.5px").style("font-weight",600).style("letter-spacing","-0.5px")
    .style("stroke","#fff").style("stroke-width",10).style("stroke-linejoin","round").style("paint-order","stroke")
    .text("TradingView");
logo.append("path").attr("d","M28.7 1355H56.5V1383H40.7V1366H28.7ZM72 1355H88.5L74 1383H56.5Z")
    .attr("fill","#131722").attr("stroke","#fff").attr("stroke-width",8).style("paint-order","stroke");
logo.append("circle").attr("cx",62).attr("cy",1360).attr("r",6.7).attr("fill","#131722");
</script>
</body>
</html>
